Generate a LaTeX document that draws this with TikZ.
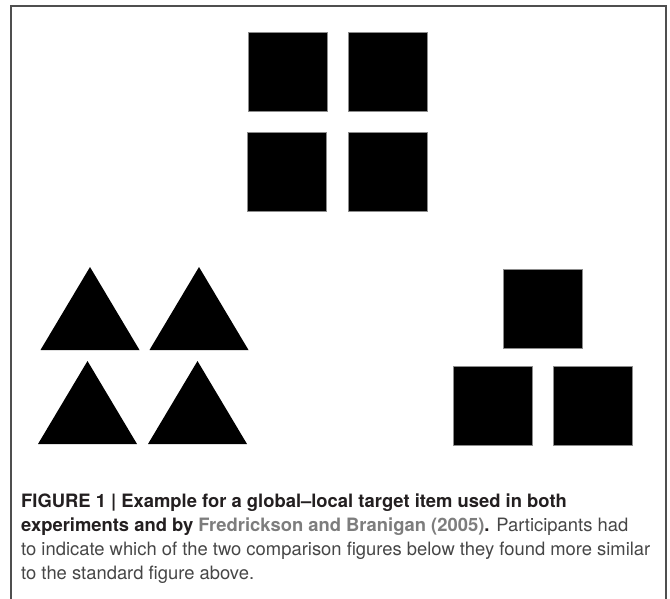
\documentclass[tikz,border=0pt]{standalone}
\usepackage{fontspec}
\setmainfont{TeX Gyre Heros}
\usepackage{xcolor}
\definecolor{capdark}{HTML}{231F20}
\definecolor{caplink}{HTML}{7D7D7D}
\definecolor{captext}{HTML}{464646}
\definecolor{framegray}{HTML}{4F4F4F}

\begin{document}
\begin{tikzpicture}[
		x=1pt, y=-1pt,
		sq/.style={rectangle, fill=black, draw=black!45, line width=0.4pt, inner sep=0pt, minimum size=79pt},
		capline/.style={anchor=base west, inner sep=0pt, font=\fontsize{18.4}{24}\selectfont}
		]
		\useasboundingbox (0,0) rectangle (670,598);
		
		% --- Outer frame (open at the bottom) ---
		\draw[framegray, line width=1.3pt] (11,610) -- (11,6) -- (666,6) -- (666,610);
		
		% --- Standard figure: four squares forming a square ---
		\node[sq] (std1) at (288,71.5) {};
		\node[sq] (std2) at (387.5,71.5) {};
		\node[sq] (std3) at (287,171.5) {};
		\node[sq] (std4) at (387.5,171.5) {};
		
		% --- Comparison (local): four triangles forming a square ---
		\foreach \x/\y in {90/267, 199/267, 87.5/361, 197.5/361}
			\fill (\x,\y) -- ++(49.5,83) -- ++(-99,0) -- cycle;
		
		% --- Comparison (global): three squares forming a triangle ---
		\node[sq] (glb1) at (542.5,309) {};
		\node[sq] (glb2) at (492.5,405.5) {};
		\node[sq] (glb3) at (593,405.5) {};
		
		% --- Caption ---
		\node[capline, capdark] (cap1) at (21,507) {\bfseries FIGURE 1 | Example for a global–local target item used in both};
		\node[capline, capdark] (cap2) at (21,531) {\bfseries experiments and by \textcolor{caplink}{Fredrickson and Branigan (2005)}. \mdseries\color{captext}Participants had};
		\node[capline, captext] (cap3) at (21,555) {to indicate which of the two comparison figures below they found more similar};
		\node[capline, captext] (cap4) at (21,579) {to the standard figure above.};
	\end{tikzpicture}
\end{document}
